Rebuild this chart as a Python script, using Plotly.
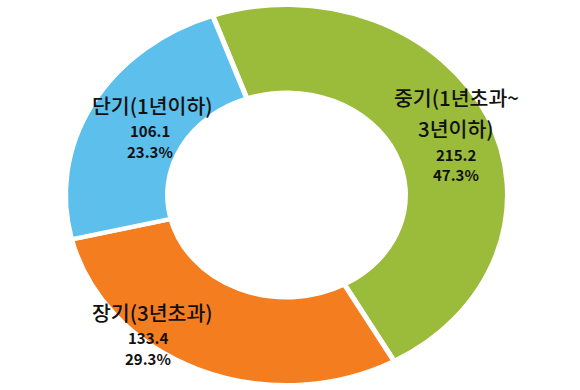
import plotly.graph_objects as go

# ---- data ----
categories = ["중기(1년초과~3년이하)", "장기(3년초과)", "단기(1년이하)"]
category_lines = [["중기(1년초과~", "3년이하)"], ["장기(3년초과)"], ["단기(1년이하)"]]
values = [215.2, 133.4, 106.1]
shares = [47.3, 29.3, 23.3]
colors = ["#9BBB3B", "#F47D20", "#5CBFEC"]

W, H = 580, 390
CX, CY = 286.5, 195.0
R = 190.25          # outer radius incl. half the white stroke
STRETCH = 1.162     # original chart is horizontally stretched

fig = go.Figure(
    go.Pie(
        labels=categories,
        values=values,
        sort=False,
        direction="clockwise",
        rotation=-19.5,
        hole=0.5375,
        marker=dict(colors=colors, line=dict(color="white", width=4.5)),
        textinfo="none",
        hoverinfo="skip",
        showlegend=False,
        domain=dict(x=[(CX - R) / W, (CX + R) / W], y=[1 - (CY + R) / H, 1 - (CY - R) / H]),
    )
)

# label placement (pixels): label line centres, then value / share centres
label_pos = [
    dict(x=456, ys=[97, 128], vx=456, vy=155, py=175),
    dict(x=152, ys=[312], vx=148, vy=337, py=358),
    dict(x=152, ys=[105], vx=150, vy=131, py=152),
]

annotations = []
for lines, v, s, p in zip(category_lines, values, shares, label_pos):
    for line, y in zip(lines, p["ys"]):
        annotations.append(dict(
            x=p["x"] / W, y=1 - y / H, xref="paper", yref="paper",
            text=line, showarrow=False, xanchor="center", yanchor="middle",
            font=dict(family="Noto Sans CJK KR", size=20.5, color="#111111", weight=500),
        ))
    annotations.append(dict(
        x=p["vx"] / W, y=1 - p["vy"] / H, xref="paper", yref="paper",
        text=f"<b>{v:.1f}</b>", showarrow=False, xanchor="center", yanchor="middle",
        font=dict(family="Noto Sans CJK KR", size=15, color="#111111"),
    ))
    annotations.append(dict(
        x=p["vx"] / W, y=1 - p["py"] / H, xref="paper", yref="paper",
        text=f"<b>{s:.1f}%</b>", showarrow=False, xanchor="center", yanchor="middle",
        font=dict(family="Noto Sans CJK KR", size=15, color="#111111"),
    ))

fig.update_layout(
    width=W, height=H,
    margin=dict(l=0, r=0, t=0, b=0),
    paper_bgcolor="white", plot_bgcolor="white",
    annotations=annotations,
)

post = f"""
var gd = document.getElementById('{{plot_id}}');
var pl = gd.querySelector('.pielayer');
if (pl) {{
  pl.setAttribute('transform', 'translate({-CX * (STRETCH - 1):.3f},0) scale({STRETCH},1)');
}}
"""

fig.write_html("out.html", post_script=post, config={"responsive": False, "displayModeBar": False})
